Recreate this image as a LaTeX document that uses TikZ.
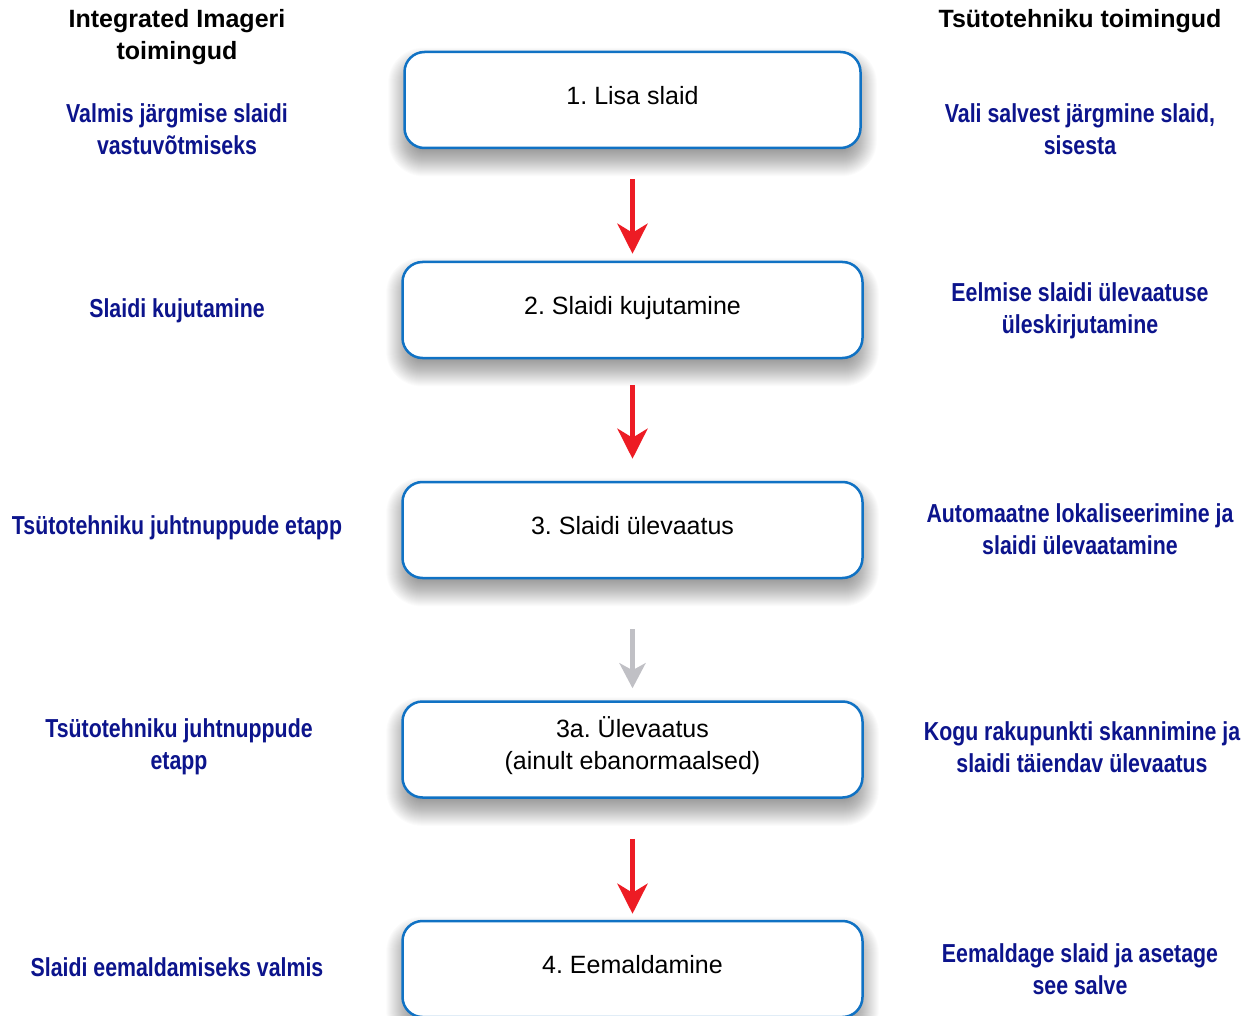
\documentclass[tikz,border=0pt]{standalone}
\usepackage{fontspec}
\setmainfont{Liberation Sans}
\newfontfamily\condfont[FakeStretch=0.82]{Liberation Sans}
\usetikzlibrary{arrows.meta}
\pgfdeclarelayer{background}
\pgfsetlayers{background,main}
\definecolor{boxblue}{RGB}{16,114,196}
\definecolor{navy}{RGB}{12,20,140}
\definecolor{arrred}{RGB}{237,28,36}
\definecolor{arrgray}{RGB}{192,192,197}
\frenchspacing
\begin{document}
\begin{tikzpicture}[x=1pt,y=-1pt,
  stepbox/.style={draw=boxblue, line width=2.5pt, rounded corners=20pt, fill=white,
    minimum width=460pt, minimum height=96pt, inner sep=0pt, align=center,
    font=\fontsize{25}{32}\selectfont, text depth=9pt},
  head/.style={font=\bfseries\fontsize{25}{32}\selectfont, align=center},
  note/.style={font=\condfont\bfseries\fontsize{26}{32}\selectfont, text=navy, align=center},
  flow/.style={draw=arrred, line width=5pt, -{Stealth[length=30pt,width=30pt,inset=9pt]}},
  flowgray/.style={draw=arrgray, line width=4.5pt, -{Stealth[length=25pt,width=26pt,inset=7pt]}},
]
\useasboundingbox (0,0) rectangle (1253,1016);

% boxes
\node[stepbox, minimum width=456pt] (b1) at (632.5,100) {1. Lisa slaid};
\node[stepbox] (b2) at (632.5,310) {2. Slaidi kujutamine};
\node[stepbox] (b3) at (632.5,530) {3. Slaidi ülevaatus};
\node[stepbox, text depth=13pt] (b3a) at (632.5,749.5) {3a. Ülevaatus\\(ainult ebanormaalsed)};
\node[stepbox] (b4) at (632.5,969) {4. Eemaldamine};

% background and soft shadows
\begin{pgfonlayer}{background}
\fill[white] (0,0) rectangle (1253,1016);
\foreach \b in {b1,b2,b3,b3a,b4}{
  \foreach \s [evaluate=\s as \rr using {max(1,20+\s)}] in {-15,...,15}{
    \fill[black,opacity=0.0175,rounded corners=\rr pt]
      ([shift={(-\s,12-\s)}]\b.north west) rectangle ([shift={(\s,12+\s)}]\b.south east);
  }}
\end{pgfonlayer}

% arrows
\draw[flow, shorten <=30pt, shorten >=7pt] (b1) -- (b2);
\draw[flow, shorten <=26pt, shorten >=22pt] (b2) -- (b3);
\draw[flowgray, shorten <=50pt, shorten >=12pt] (b3) -- (b3a);
\draw[flow, shorten <=40pt, shorten >=6pt] (b3a) -- (b4);

% headers
\node[head] (hl) at (177,37) {Integrated Imageri\\toimingud};
\node[head] (hr) at (1080,21) {Tsütotehniku toimingud};

% left notes
\node[note] (l1) at (177,129) {Valmis järgmise slaidi\\vastuvõtmiseks};
\node[note] (l2) at (177,311) {Slaidi kujutamine};
\node[note] (l3) at (177,528) {Tsütotehniku juhtnuppude etapp};
\node[note] (l4) at (179,747) {Tsütotehniku juhtnuppude\\etapp};
\node[note] (l5) at (177,967) {Slaidi eemaldamiseks valmis};

% right notes
\node[note] (r1) at (1080,129) {Vali salvest järgmine slaid,\\sisesta};
\node[note] (r2) at (1080,311) {Eelmise slaidi ülevaatuse\\üleskirjutamine};
\node[note] (r3) at (1080,529) {Automaatne lokaliseerimine ja\\slaidi ülevaatamine};
\node[note] (r4) at (1082,747) {Kogu rakupunkti skannimine ja\\slaidi täiendav ülevaatus};
\node[note] (r5) at (1080,969) {Eemaldage slaid ja asetage\\see salve};
\end{tikzpicture}
\end{document}
